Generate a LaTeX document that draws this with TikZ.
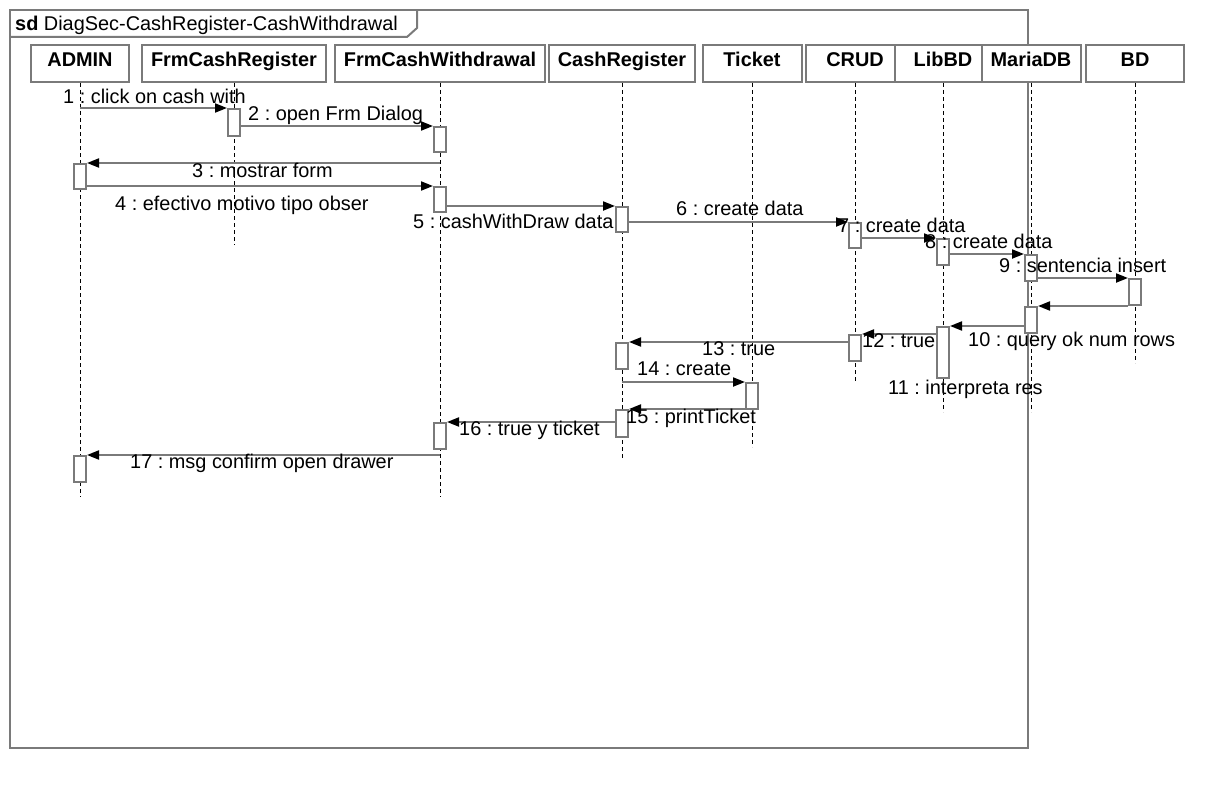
\documentclass[tikz,border=0pt]{standalone}
\usepackage{fontspec}
\setmainfont{Liberation Sans}
\usetikzlibrary{arrows.meta}
\definecolor{gr}{RGB}{122,122,122}
\begin{document}
\frenchspacing
\begin{tikzpicture}[x=1pt,y=-1pt,
  font=\fontsize{19.9}{23}\selectfont,
  head/.style={draw=gr, line width=2pt, fill=white, minimum height=37pt, inner sep=0pt, text height=14pt, text depth=7pt, font=\fontsize{19.9}{23}\selectfont\bfseries},
  act/.style={draw=gr, line width=2pt, fill=white, minimum width=12pt, inner sep=0pt, anchor=north},
  lifeline/.style={draw=black, line width=0.9pt, dash pattern=on 4pt off 3pt},
  msg/.style={draw=gr, line width=2pt, -{Triangle[length=12pt,width=9pt,color=black]}},
  lbl/.style={inner sep=0pt, anchor=base west}]
\useasboundingbox (0,0) rectangle (1225,789);
% frame
\draw[gr, line width=2pt] (10,10) rectangle (1028,748);
\draw[gr, line width=2pt] (10,37) -- (407,37) -- (417,28) -- (417,10);
\node[lbl] (title) at (15,31) {\textbf{sd} DiagSec-CashRegister-CashWithdrawal};
% heads
\node[head, minimum width=98pt]  (admin)   at (80,63.5)  {ADMIN};
\node[head, minimum width=184pt] (fcr)     at (234,63.5) {FrmCashRegister};
\node[head, minimum width=210pt] (fcw)     at (440,63.5) {FrmCashWithdrawal};
\node[head, minimum width=146pt] (cr)      at (622,63.5) {CashRegister};
\node[head, minimum width=99pt]  (ticket)  at (752,63.5) {Ticket};
\node[head, minimum width=99pt]  (crud)    at (855,63.5) {CRUD};
\node[head, minimum width=97pt]  (libbd)   at (943,63.5) {LibBD};
\node[head, minimum width=99pt]  (mariadb) at (1031,63.5) {MariaDB};
\node[head, minimum width=98pt]  (bd)      at (1135,63.5) {BD};
% lifeline ends
\coordinate (adminE)   at (80,497);
\coordinate (fcrE)     at (234,245);
\coordinate (fcwE)     at (440,497);
\coordinate (crE)      at (622,460);
\coordinate (ticketE)  at (752,447);
\coordinate (crudE)    at (855,382);
\coordinate (libbdE)   at (943,412);
\coordinate (mariadbE) at (1031,412);
\coordinate (bdE)      at (1135,363);
\foreach \n in {admin,fcr,fcw,cr,ticket,crud,libbd,mariadb,bd}
  \draw[lifeline] (\n.south) -- (\n E);
% activations
\node[act, minimum height=27pt] (a1)  at (234,108) {};
\node[act, minimum height=25pt] (a2)  at (440,126) {};
\node[act, minimum height=25pt] (a3)  at (80,163) {};
\node[act, minimum height=25pt] (a4)  at (440,186) {};
\node[act, minimum height=25pt] (a5)  at (622,206) {};
\node[act, minimum height=25pt] (a6)  at (855,222) {};
\node[act, minimum height=26pt] (a7)  at (943,238) {};
\node[act, minimum height=26pt] (a8)  at (1031,254) {};
\node[act, minimum height=26pt] (a9)  at (1135,278) {};
\node[act, minimum height=26pt] (a10) at (1031,306) {};
\node[act, minimum height=51pt] (a11) at (943,326) {};
\node[act, minimum height=26pt] (a12) at (855,334) {};
\node[act, minimum height=26pt] (a13) at (622,342) {};
\node[act, minimum height=26pt] (a14) at (752,382) {};
\node[act, minimum height=27pt] (a15) at (622,409) {};
\node[act, minimum height=26pt] (a16) at (440,422) {};
\node[act, minimum height=26pt] (a17) at (80,455) {};
% messages
\draw[msg] (admin |- a1.north) -- (a1.north west);
\draw[msg] (a1.east |- a2.north) -- (a2.north west);
\draw[msg] (fcw |- a3.north) -- (a3.north east);
\draw[msg] (a3.east |- a4.north) -- (a4.north west);
\draw[msg] (a4.east |- a5.north) -- (a5.north west);
\draw[msg] (a5.east |- a6.north) -- (a6.north west);
\draw[msg] (a6.east |- a7.north) -- (a7.north west);
\draw[msg] (a7.east |- a8.north) -- (a8.north west);
\draw[msg] (a8.east |- a9.north) -- (a9.north west);
\draw[msg] (a9.south west) -- (a10.north east);
\draw[msg] (a10.west |- a11.north) -- (a11.north east);
\draw[msg] (a11.west |- a12.north) -- (a12.north east);
\draw[msg] (a12.west |- a13.north) -- (a13.north east);
\draw[msg] (cr |- a14.north) -- (a14.north west);
\draw[msg] (a14.west |- a15.north) -- (a15.north east);
\draw[msg] (a15.west |- a16.north) -- (a16.north east);
\draw[msg] (fcw |- a17.north) -- (a17.north east);
% labels
\node[lbl] (l1)  at (63,103)  {1 : click on cash with};
\node[lbl] (l2)  at (248,121) {2 : open Frm Dialog};
\node[lbl] (l3)  at (192,177) {3 : mostrar form};
\node[lbl] (l4)  at (115,210) {4 : efectivo motivo tipo obser};
\node[lbl] (l5)  at (413,228) {5 : cashWithDraw data};
\node[lbl] (l6)  at (676,215) {6 : create data};
\node[lbl] (l7)  at (838,232) {7 : create data};
\node[lbl] (l8)  at (925,248) {8 : create data};
\node[lbl] (l9)  at (999,272) {9 : sentencia insert};
\node[lbl] (l10) at (968,346) {10 : query ok num rows};
\node[lbl] (l11) at (888,394) {11 : interpreta res};
\node[lbl] (l12) at (862,347) {12 : true};
\node[lbl] (l13) at (702,355) {13 : true};
\node[lbl] (l14) at (637,375) {14 : create};
\node[lbl] (l15) at (626,423) {15 : printTicket};
\node[lbl] (l16) at (459,435) {16 : true y ticket};
\node[lbl] (l17) at (130,468) {17 : msg confirm open drawer};
\end{tikzpicture}
\end{document}
